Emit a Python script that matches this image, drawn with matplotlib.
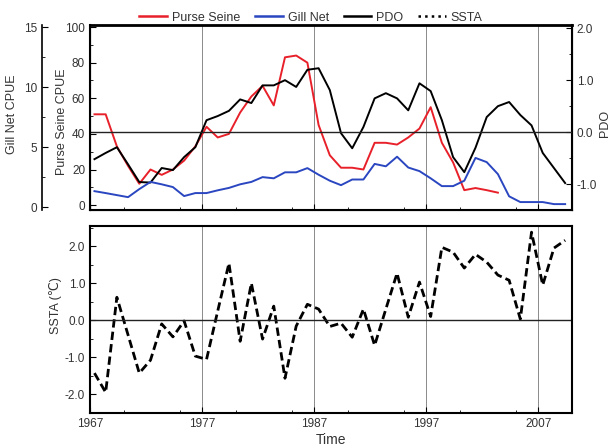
import matplotlib
matplotlib.use('Agg')
import matplotlib.pyplot as plt
import numpy as np
from matplotlib.lines import Line2D
from matplotlib.ticker import MultipleLocator

plt.rcParams['font.family'] = ['Liberation Sans', 'DejaVu Sans']

# data
years = np.arange(1967, 2010)
purse_years = np.arange(1967, 2004)
purse_seine = [51, 51, 33, 22, 12, 20, 17, 20, 25, 33, 44, 38, 40, 52, 61, 67, 56, 83, 84, 80,
               45, 28, 21, 21, 20, 35, 35, 34, 38, 43, 55, 35, 24, 8.4, 9.6, 8.4, 7]
gill_net = [1.33, 1.17, 1.0, 0.83, 1.5, 2.1, 1.9, 1.67, 0.92, 1.17, 1.17, 1.4, 1.6, 1.9, 2.1,
            2.5, 2.4, 2.9, 2.9, 3.25, 2.7, 2.2, 1.83, 2.3, 2.3, 3.6, 3.4, 4.2, 3.3, 3.0, 2.4,
            1.75, 1.75, 2.2, 4.1, 3.75, 2.75, 0.9, 0.42, 0.42, 0.42, 0.25, 0.25]
pdo = [-0.52, -0.40, -0.29, -0.62, -0.96, -0.97, -0.69, -0.73, -0.48, -0.29, 0.23, 0.31, 0.41,
       0.63, 0.56, 0.90, 0.90, 1.0, 0.87, 1.2, 1.23, 0.81, -0.02, -0.31, 0.1, 0.65, 0.75, 0.65,
       0.42, 0.94, 0.79, 0.23, -0.48, -0.77, -0.3, 0.29, 0.5, 0.58, 0.33, 0.13, -0.4, -0.69, -0.98]
ssta = [-1.43, -1.95, 0.62, -0.4, -1.43, -1.08, -0.1, -0.45, -0.02, -0.97, -1.06, 0.25, 1.54,
        -0.57, 1.0, -0.51, 0.38, -1.57, -0.16, 0.43, 0.3, -0.17, -0.08, -0.46, 0.3, -0.68, 0.3,
        1.27, 0.08, 1.03, 0.1, 1.97, 1.84, 1.41, 1.78, 1.57, 1.22, 1.08, 0.03, 2.38, 0.95, 1.95, 2.16]
decade_lines = [1977, 1987, 1997, 2007]
x_ticks = [1967, 1977, 1987, 1997, 2007]

x_off = 0.4  # points sit a bit right of the year ticks
tick_col = '#333333'
fs = 8.5

fig = plt.figure(figsize=(6.1, 4.48), dpi=100)
ax1 = fig.add_axes([0.1475, 0.531, 0.790, 0.413])
ax2 = fig.add_axes([0.1475, 0.078, 0.790, 0.417])
ax_pdo = ax1.twinx()
ax_gill = ax1.twinx()

for ax in (ax1, ax2):
    ax.set_xlim(1967, 2010)
    ax.set_xticks(x_ticks)
    ax.xaxis.set_minor_locator(MultipleLocator(5))
    for yr in decade_lines:
        ax.axvline(yr, color='#8a8a8a', lw=0.7, zorder=0)
    for s in ax.spines.values():
        s.set_linewidth(1.5)
ax1.spines['top'].set_linewidth(2)

# top panel
ax1.plot(purse_years + x_off, purse_seine, color='#e8202a', lw=1.4, zorder=3)
ax_gill.plot(years + x_off, gill_net, color='#2a46c0', lw=1.4)
ax_pdo.plot(years + x_off, pdo, color='black', lw=1.4)
ax_pdo.axhline(0, color='#222222', lw=1.0)

ax1.set_ylim(-2.8, 101.1)
ax1.set_yticks([0, 20, 40, 60, 80, 100])
ax1.yaxis.set_minor_locator(MultipleLocator(10))
ax1.tick_params(labelbottom=False)

ax_pdo.set_ylim(-1.5, 2.06)
ax_pdo.set_yticks([-1.0, 0.0, 1.0, 2.0])
ax_pdo.set_yticklabels(['-1.0', '0.0', '1.0', '2.0'])
ax_pdo.yaxis.set_minor_locator(MultipleLocator(0.5))

ax_gill.set_ylim(-0.25, 15.17)
ax_gill.set_yticks([0, 5, 10, 15])
ax_gill.yaxis.set_minor_locator(MultipleLocator(2.5))
ax_gill.spines['left'].set_position(('axes', -0.1))
ax_gill.spines['left'].set_visible(True)
ax_gill.spines['left'].set_linewidth(1.2)
for side in ('right', 'top', 'bottom'):
    ax_gill.spines[side].set_visible(False)
ax_gill.yaxis.set_ticks_position('left')
ax_gill.yaxis.set_label_position('left')

# bottom panel
ax2.plot(years + x_off, ssta, color='black', lw=2, ls=(0, (3, 1.5)))
ax2.axhline(0, color='#222222', lw=1.0)
ax2.set_ylim(-2.51, 2.54)
ax2.set_yticks([-2.0, -1.0, 0.0, 1.0, 2.0])
ax2.set_yticklabels(['-2.0', '-1.0', '0.0', '1.0', '2.0'])
ax2.yaxis.set_minor_locator(MultipleLocator(0.5))

for ax in (ax1, ax2, ax_pdo, ax_gill):
    ax.tick_params(which='both', direction='in', labelsize=fs, labelcolor=tick_col)
    ax.tick_params(which='major', length=4)
    ax.tick_params(which='minor', length=2)

lab_kw = dict(fontsize=9, color=tick_col)
ax1.set_ylabel('Purse Seine CPUE', **lab_kw)
ax1.yaxis.set_label_coords(-0.046, 0.476)
ax_gill.set_ylabel('Gill Net CPUE', **lab_kw)
ax_gill.yaxis.set_label_coords(-0.149, 0.52)
ax_pdo.set_ylabel('PDO', rotation=90, **lab_kw)
ax_pdo.yaxis.set_label_coords(1.056, 0.47)
ax2.set_ylabel('SSTA (\u2103)', **lab_kw)
ax2.yaxis.set_label_coords(-0.058, 0.578)
ax2.set_xlabel('Time', fontsize=10, color=tick_col, labelpad=2)

handles = [Line2D([], [], color='#e8202a', lw=1.8),
           Line2D([], [], color='#2a46c0', lw=1.8),
           Line2D([], [], color='black', lw=1.8),
           Line2D([], [], color='black', lw=1.8, ls=':')]
fig.legend(handles, ['Purse Seine', 'Gill Net', 'PDO', 'SSTA'], loc='center',
           bbox_to_anchor=(311 / 610, 1 - 17.6 / 448), ncol=4, frameon=False,
           fontsize=9, handlelength=2.2, handletextpad=0.4, columnspacing=1.2,
           labelcolor=tick_col)

fig.savefig('out.png', dpi=100)
